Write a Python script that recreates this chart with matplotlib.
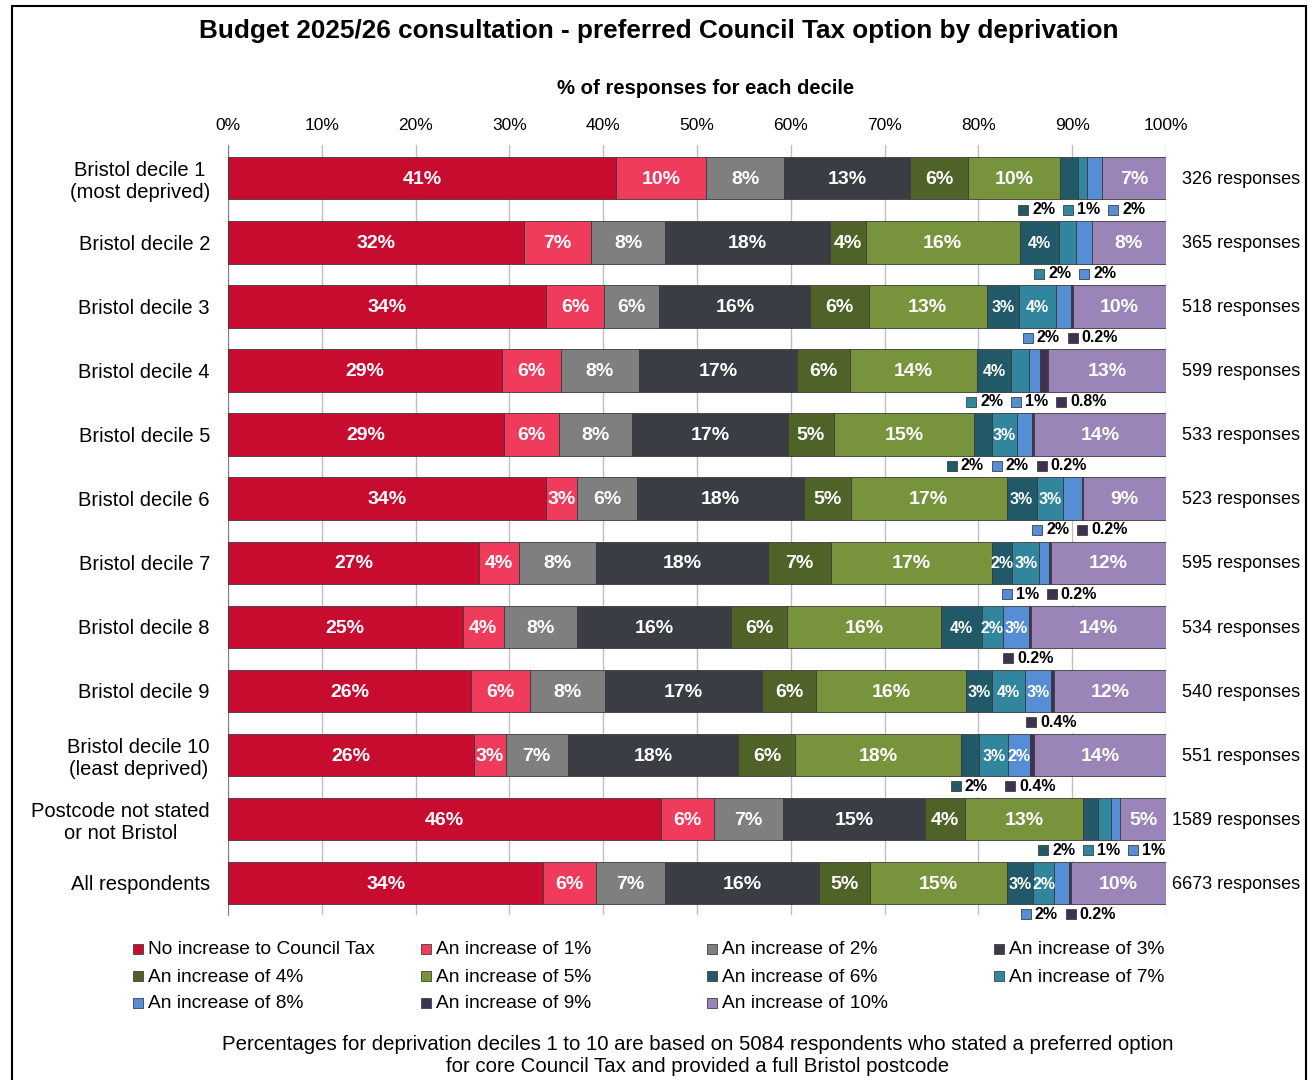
import matplotlib.pyplot as plt
from matplotlib.patches import Rectangle

plt.rcParams['font.family'] = ['Liberation Sans', 'DejaVu Sans']

rows = ['Bristol decile 1\n(most deprived)', 'Bristol decile 2', 'Bristol decile 3',
        'Bristol decile 4', 'Bristol decile 5', 'Bristol decile 6', 'Bristol decile 7',
        'Bristol decile 8', 'Bristol decile 9', 'Bristol decile 10\n(least deprived)',
        'Postcode not stated\nor not Bristol', 'All respondents']
responses = [326, 365, 518, 599, 533, 523, 595, 534, 540, 551, 1589, 6673]

options = ['No increase to Council Tax', 'An increase of 1%', 'An increase of 2%',
           'An increase of 3%', 'An increase of 4%', 'An increase of 5%',
           'An increase of 6%', 'An increase of 7%', 'An increase of 8%',
           'An increase of 9%', 'An increase of 10%']
colours = ['#C80C30', '#EF3B5C', '#7F7F7F', '#3A3D44', '#4F6228', '#77933C',
           '#215968', '#31859C', '#558ED5', '#3F3151', '#9A84B8']

# % of responses per row, one list per option
no_increase = [41.4, 31.6, 33.9, 29.2, 29.4, 33.9, 26.8, 25.0, 25.9, 26.2, 46.2, 33.6]
inc_1 = [9.6, 7.1, 6.2, 6.3, 5.9, 3.3, 4.2, 4.4, 6.3, 3.4, 5.6, 5.6]
inc_2 = [8.3, 7.9, 5.9, 8.3, 7.8, 6.4, 8.2, 7.8, 8.0, 6.6, 7.4, 7.4]
inc_3 = [13.4, 17.6, 16.1, 16.9, 16.6, 17.8, 18.4, 16.4, 16.7, 18.2, 15.1, 16.4]
inc_4 = [6.2, 3.8, 6.2, 5.6, 4.9, 5.0, 6.7, 6.0, 5.8, 6.1, 4.3, 5.4]
inc_5 = [9.8, 16.4, 12.6, 13.6, 14.9, 16.6, 17.1, 16.4, 16.0, 17.6, 12.6, 14.7]
inc_6 = [1.9, 4.2, 3.4, 3.6, 1.9, 3.2, 2.2, 4.4, 2.7, 2.0, 1.6, 2.7]
inc_7 = [1.0, 1.8, 4.0, 1.9, 2.7, 2.8, 2.9, 2.2, 3.6, 3.1, 1.3, 2.3]
inc_8 = [1.6, 1.7, 1.6, 1.2, 1.6, 2.0, 1.0, 2.8, 2.7, 2.3, 1.0, 1.6]
inc_9 = [0, 0, 0.2, 0.8, 0.2, 0.2, 0.2, 0.2, 0.4, 0.4, 0, 0.2]
inc_10 = [6.8, 7.9, 9.9, 12.6, 14.1, 8.8, 12.3, 14.4, 11.9, 14.1, 4.9, 10.1]
series = [no_increase, inc_1, inc_2, inc_3, inc_4, inc_5, inc_6, inc_7, inc_8, inc_9, inc_10]

W, H = 1314, 1080
fig = plt.figure(figsize=(W / 100, H / 100), dpi=100)
ax = fig.add_axes([228 / W, 1 - 915 / H, (1166 - 228) / W, (915 - 145) / H])

PX = (1166 - 228) / 100.0  # pixels per percentage point


def fmt(v):
    return f'{v:.0f}%' if v >= 1 else f'{v:.1f}%'


def spread(centres, widths, gap):
    pos = list(centres)
    for _ in range(300):
        moved = False
        for i in range(len(pos) - 1):
            need = (widths[i] + widths[i + 1]) / 2 + gap
            d = pos[i + 1] - pos[i]
            if d < need - 1e-9:
                s = (need - d) / 2
                pos[i] -= s
                pos[i + 1] += s
                moved = True
        if not moved:
            break
    over = pos[-1] + widths[-1] / 2 - 100
    if over > 0:
        pos = [p - over for p in pos]
    return pos


y = list(range(len(rows)))
left = [0.0] * len(rows)
small = {6, 7, 8}
below = [[] for _ in rows]
for k, (vals, col) in enumerate(zip(series, colours)):
    ax.barh(y, vals, left=left, height=0.66, color=col, edgecolor='#3a3a3a',
            linewidth=0.6, zorder=3)
    for r, v in enumerate(vals):
        if v <= 0:
            continue
        cx = left[r] + v / 2
        if v >= 2.1:
            ax.text(cx, r + 0.02, fmt(v), ha='center', va='center', color='white',
                    fontweight='bold', fontsize=11.5 if k in small else 14, zorder=4)
        else:
            below[r].append((cx, fmt(v), col))
    left = [a + b for a, b in zip(left, vals)]

# small segments get their value under the bar, with a colour key
for r, items in enumerate(below):
    if not items:
        continue
    widths = []
    for _, t, _ in items:
        digits = sum(c.isdigit() for c in t)
        widths.append((15 + 10 * digits + 5 * t.count('.') + 13) / PX)
    pos = spread([c for c, _, _ in items], widths, 7 / PX)
    yy = r + 0.49
    for (cx, t, col), p, w in zip(items, pos, widths):
        x0 = p - w / 2
        ax.add_patch(Rectangle((x0 - 2 / PX, yy - 0.17), w + 4 / PX, 0.34,
                               facecolor='white', edgecolor='none', zorder=2,
                               clip_on=False))
        ax.plot(x0 + 5 / PX, yy, marker='s', ms=7, mfc=col, mec='#404040',
                mew=0.6, zorder=5, clip_on=False)
        ax.text(x0 + 14 / PX, yy, t, ha='left', va='center', fontsize=11.5,
                fontweight='bold', color='black', zorder=5, clip_on=False)

for r, n in enumerate(responses):
    ax.text(114.3, r + 0.02, f'{n} responses', ha='right', va='center', fontsize=13,
            clip_on=False)

ax.set_xlim(0, 100)
ax.set_ylim(11.5, -0.52)
ax.set_yticks(y)
ax.set_yticklabels(rows, fontsize=14.5, multialignment='center')
ax.set_xticks(range(0, 101, 10))
ax.set_xticklabels([f'{t}%' for t in range(0, 101, 10)], fontsize=12.5)
ax.xaxis.tick_top()
ax.tick_params(axis='both', length=0)
ax.tick_params(axis='x', pad=9)
ax.tick_params(axis='y', pad=13)
ax.grid(axis='x', color='#BFBFBF', linewidth=1, zorder=0)
ax.set_axisbelow(True)
for s in ['top', 'right', 'bottom']:
    ax.spines[s].set_visible(False)
ax.spines['left'].set_color('#808080')

fig.text(659 / W, 1 - 31 / H, 'Budget 2025/26 consultation - preferred Council Tax option by deprivation',
         ha='center', va='center', fontsize=18.8, fontweight='bold')
fig.text(706 / W, 1 - 89 / H, '% of responses for each decile', ha='center', va='center',
         fontsize=14.6, fontweight='bold')

# legend laid out row by row in four even columns
col_x = [133, 421, 707, 994]
row_y = [949, 976, 1003]
for i, (name, col) in enumerate(zip(options, colours)):
    rr, cc = divmod(i, 4)
    fig.add_artist(Rectangle(((col_x[cc]) / W, 1 - (row_y[rr] + 5) / H), 10 / W, 10 / H,
                             transform=fig.transFigure, facecolor=col,
                             edgecolor='#404040', linewidth=0.6))
    fig.text((col_x[cc] + 15) / W, 1 - (row_y[rr] + 1) / H, name, ha='left', va='center',
             fontsize=13.8)

fig.text(698 / W, 1 - 1055 / H,
         'Percentages for deprivation deciles 1 to 10 are based on 5084 respondents who stated a preferred option\n'
         'for core Council Tax and provided a full Bristol postcode',
         ha='center', va='center', fontsize=14.7, linespacing=1.2)

fig.add_artist(Rectangle((12 / W, -0.01), (1306 - 12) / W, 1 - 6 / H + 0.01,
                         transform=fig.transFigure, fill=False, edgecolor='black',
                         linewidth=1.5))

fig.savefig('out.png', dpi=100)
